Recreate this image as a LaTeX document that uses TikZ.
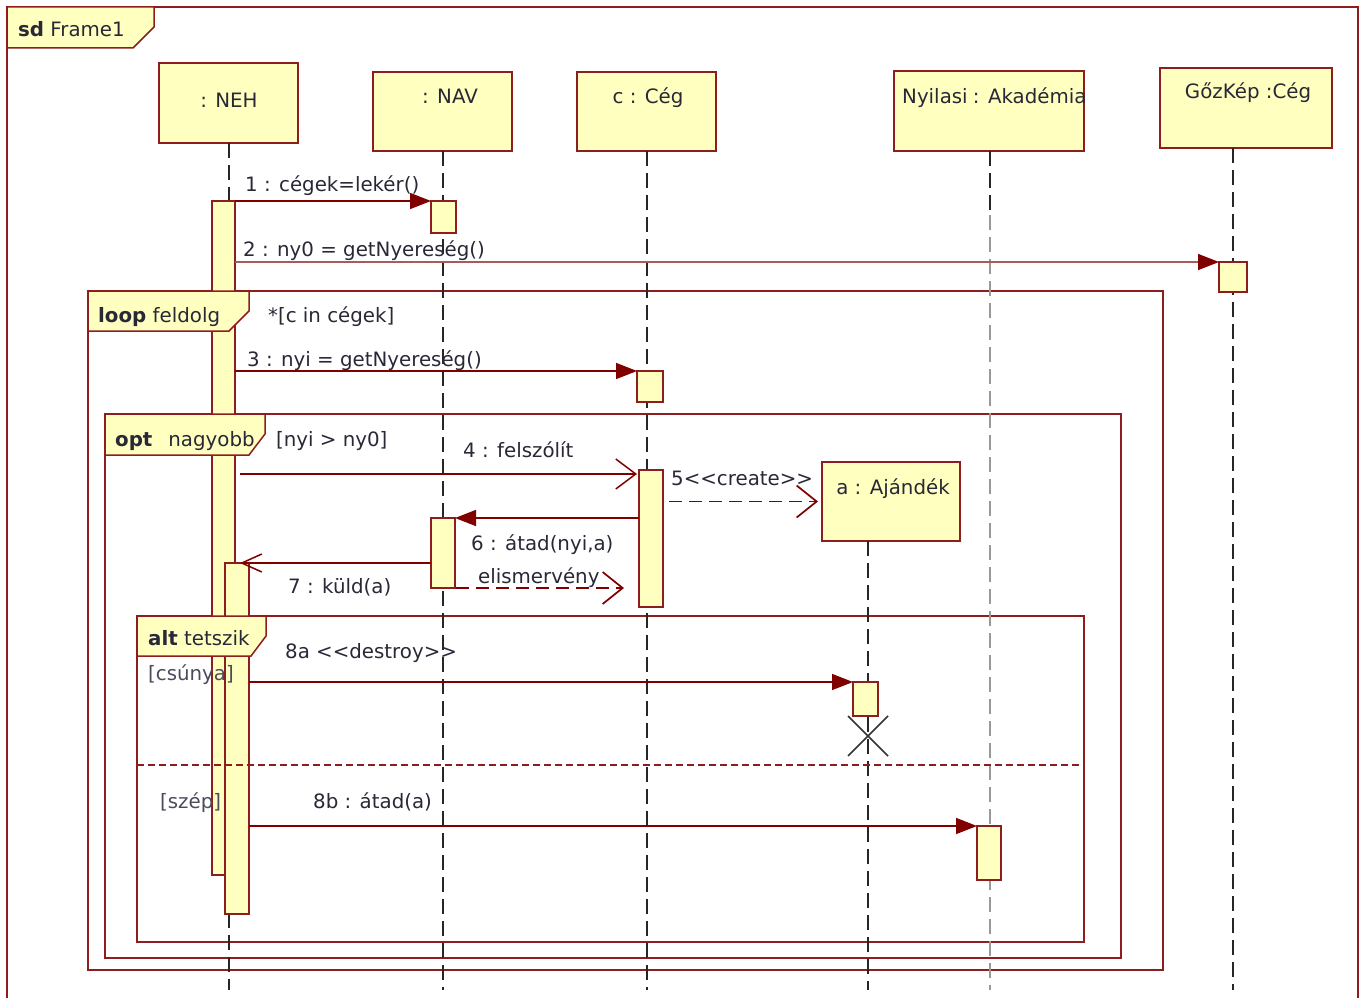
\documentclass[tikz,border=0pt]{standalone}
\usepackage{fontspec}
\setmainfont{DejaVu Sans}
\usetikzlibrary{arrows.meta,calc}
\definecolor{fr}{RGB}{140,30,30}
\definecolor{msg}{RGB}{128,0,0}
\definecolor{msglight}{RGB}{170,90,90}
\definecolor{fillY}{RGB}{255,255,192}
\definecolor{txt}{RGB}{40,40,55}
\definecolor{guard}{RGB}{75,75,95}
\begin{document}
\begin{tikzpicture}[x=1pt,y=-1pt,
  every node/.style={font=\fontsize{19.8}{22}\selectfont, text=txt},
  headbox/.style={draw=fr, fill=fillY, line width=1.5pt, inner sep=0pt, outer sep=0pt, anchor=north west},
  actbox/.style={draw=fr, fill=fillY, line width=1.3pt, inner sep=0pt, outer sep=0pt, anchor=north west},
  lifeline/.style={draw=black!85, line width=2pt, dash pattern=on 15pt off 7pt},
  graylife/.style={draw=black!40, line width=2pt, dash pattern=on 15pt off 7pt},
  frag/.style={draw=fr, line width=1.5pt},
  fraglabel/.style={draw=fr, fill=fillY, line width=1.5pt},
  sep/.style={draw=fr, line width=1.5pt, dash pattern=on 7pt off 4pt},
  msgsync/.style={draw=msg, line width=1.5pt, -{Triangle[length=21pt,width=16pt,color=msg]}},
  msgopen/.style={draw=msg, line width=1.5pt, -{Straight Barb[length=20pt,width=30pt]}},
  msgsmall/.style={draw=msg, line width=1.5pt, -{Straight Barb[length=20pt,width=18pt]}},
  msgdash/.style={draw=msg, line width=1.7pt, dash pattern=on 13pt off 7pt, -{Straight Barb[length=20pt,width=32pt]}},
  lbl/.style={anchor=base west, inner sep=0pt},
  gtext/.style={anchor=base west, inner sep=0pt, text=guard},
  htext/.style={anchor=base, inner sep=0pt}
]
\useasboundingbox (0,0) rectangle (1362,998);
\coordinate (bot) at (0,990);
% outer frame
\draw[frag] (7,998) -- (7,7) -- (1358,7) -- (1358,998);
% fragments
\draw[frag] (88,291) rectangle (1163,970);
\draw[frag] (105,414) rectangle (1121,958);
\draw[frag] (137,616) rectangle (1084,942);
% heads
\node[headbox, minimum width=139pt, minimum height=80pt] (neh) at (159,63) {};
\node[headbox, minimum width=139pt, minimum height=79pt] (nav) at (373,72) {};
\node[headbox, minimum width=139pt, minimum height=79pt] (ceg) at (577,72) {};
\node[headbox, minimum width=190pt, minimum height=80pt] (nyil) at (894,71) {};
\node[headbox, minimum width=172pt, minimum height=80pt] (gk) at (1160,68) {};
\node[headbox, minimum width=138pt, minimum height=79pt] (aj) at (822,462) {};
\node[htext] (nehT) at (229,107) {: NEH};
\node[htext] (navT) at (450,103) {: NAV};
\node[htext] (cegT) at (648,103) {c : Cég};
\node[lbl] (nyilT) at (902,103) {Nyilasi\hspace{-1pt} : Akadémia};
\node[htext] (gkT) at (1248,99) {GőzKép :Cég};
\node[htext] (ajT) at (893,494) {a : Ajándék};
% lifelines
\draw[lifeline] (neh.south) -- (neh.south |- bot);
\draw[lifeline] (nav.south) -- (nav.south |- bot);
\draw[lifeline] (ceg.south) -- (ceg.south |- bot);
\coordinate (nyilmid) at (990,215);
\draw[lifeline] (nyil.south -| nyilmid) -- (nyilmid);
\draw[graylife] (nyilmid) -- (nyilmid |- bot);
\draw[lifeline] (gk.south -| 1233,0) -- (1233,990);
\draw[lifeline] (aj.south -| 868,0) -- (868,990);
% activations
\node[actbox, minimum width=23pt, minimum height=674pt] (nehA) at (212,201) {};
\node[actbox, minimum width=24pt, minimum height=351pt] (nehB) at (225,563) {};
\node[actbox, minimum width=25pt, minimum height=32pt] (navA) at (431,201) {};
\node[actbox, minimum width=28pt, minimum height=30pt] (gkA) at (1219,262) {};
\node[actbox, minimum width=26pt, minimum height=31pt] (cA) at (637,371) {};
\node[actbox, minimum width=24pt, minimum height=137pt] (cB) at (639,470) {};
\node[actbox, minimum width=24pt, minimum height=70pt] (navB) at (431,518) {};
\node[actbox, minimum width=25pt, minimum height=34pt] (ajA) at (853,682) {};
\node[actbox, minimum width=24pt, minimum height=54pt] (nyA) at (977,826) {};
% destroy mark
\draw[draw=black!80, line width=1.5pt] (848,716) -- (888,756) (888,716) -- (848,756);
% fragment labels
\draw[fraglabel] (7,7) -- (154,7) -- (154,27) -- (133,48) -- (7,48) -- cycle;
\draw[fraglabel] (88,291) -- (249,291) -- (249,311) -- (229,331) -- (88,331) -- cycle;
\draw[fraglabel] (105,414) -- (265,414) -- (265,434) -- (249,455) -- (105,455) -- cycle;
\draw[fraglabel] (137,616) -- (266,616) -- (266,636) -- (251,656) -- (137,656) -- cycle;
\draw[sep] (137,765) -- (1084,765);
\node[lbl] (sdT) at (18,37) {\textbf{sd} Frame1};
\node[lbl] (loopT) at (98,322) {\textbf{loop} feldolg};
\node[lbl] (loopG) at (268,322) {*[c in cégek]};
\node[lbl] (optT) at (115,446) {\textbf{opt}\hspace{16pt}nagyobb};
\node[lbl] (optG) at (276,446) {[nyi > ny0]};
\node[lbl] (altT) at (148,645) {\textbf{alt} tetszik};
\node[gtext] (altG1) at (148,680) {[csúnya]};
\node[gtext] (altG2) at (160,808) {[szép]};
% messages
\draw[msgsync] (nehA.north east) -- (navA.north west);
\node[lbl] (m1) at (245,191) {1 : cégek=lekér()};
\draw[msgsync, draw=msglight] (nehA.east |- gkA.north) -- (gkA.north west);
\node[lbl] (m2) at (243,256) {2 : ny0 = getNyereség()};
\draw[msgsync] (nehA.east |- cA.north) -- (cA.north west);
\node[lbl] (m3) at (247,366) {3 : nyi = getNyereség()};
\draw[msgopen] ([xshift=5pt,yshift=-4pt]nehA.east |- cB.north) -- ([xshift=-2pt,yshift=-4pt]cB.north west);
\node[lbl] (m4) at (463,457) {4 : felszólít};
\draw[msgdash] ([xshift=6pt]cB.east |- aj.west) -- ([xshift=-4pt]aj.west);
\node[lbl] (m5) at (671,485) {5<\kern0pt<create>\kern0pt>};
\draw[msgsync] (cB.west |- navB.north) -- (navB.north east);
\node[lbl] (m6) at (471,550) {6 : átad(nyi,a)};
\draw[msgsmall] (navB.west |- nehB.north) -- ([xshift=-9pt]nehB.north east);
\node[lbl] (m7) at (288,593) {7 : küld(a)};
\draw[msgdash] ([xshift=1pt]navB.south east) -- ([xshift=-15pt]cB.west |- navB.south);
\node[lbl] (m8) at (478,583) {elismervény};
\draw[msgsync] (nehB.east |- ajA.north) -- (ajA.north west);
\node[lbl] (m9) at (285,658) {8a <\kern0pt<destroy>\kern0pt>};
\draw[msgsync] (nehB.east |- nyA.north) -- (nyA.north west);
\node[lbl] (m10) at (313,808) {8b : átad(a)};
\end{tikzpicture}
\end{document}
